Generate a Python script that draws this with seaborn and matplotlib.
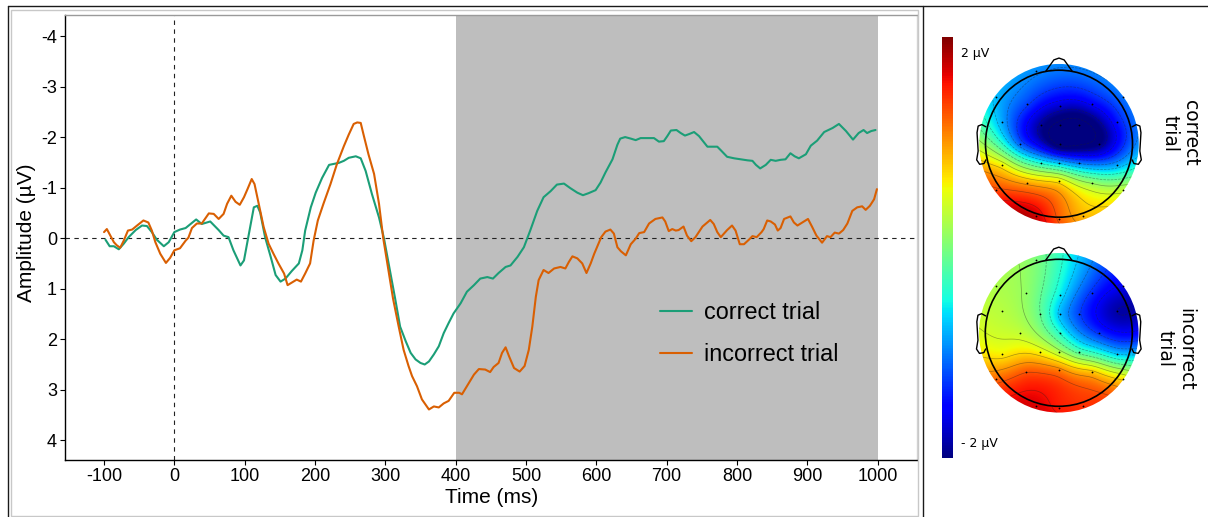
import numpy as np
import pandas as pd
import matplotlib
matplotlib.use("Agg")
import matplotlib.pyplot as plt
import seaborn as sns
from matplotlib.patches import Circle, Rectangle
from matplotlib.lines import Line2D
from matplotlib.colors import Normalize
from matplotlib.colorbar import ColorbarBase

# ---------------- data ----------------
correct_t = [-98, -92, -86, -79, -72, -65, -55, -46, -39, -32, -25, -15, -8, 0, 8, 16, 23, 31, 39, 51,
             63, 70, 77, 84, 94, 99, 106, 113, 118, 122, 129, 137, 144, 151, 158, 167, 177, 182, 186, 194,
             201, 210, 220, 227, 234, 241, 248, 258, 265, 272, 281, 291, 298, 306, 314, 321, 329, 336, 343, 350,
             356, 362, 369, 376, 383, 390, 397, 407, 416, 426, 435, 445, 453, 461, 471, 478, 488, 497, 506, 516,
             525, 535, 544, 554, 563, 573, 581, 589, 599, 606, 613, 623, 630, 634, 641, 649, 656, 663, 672, 682,
             689, 696, 701, 706, 714, 720, 726, 732, 739, 746, 758, 767, 772, 777, 786, 796, 805, 815, 822, 827,
             833, 841, 848, 855, 862, 869, 876, 882, 888, 898, 905, 914, 924, 936, 945, 955, 965, 973, 980, 985,
             991, 997]
correct_v = [0.03, 0.16, 0.16, 0.22, 0.11, -0.02, -0.16, -0.25, -0.24, -0.12, 0.03, 0.16, 0.08, -0.12, -0.17, -0.20, -0.28, -0.37, -0.28, -0.33,
             -0.16, -0.05, -0.02, 0.24, 0.54, 0.44, -0.09, -0.61, -0.64, -0.51, -0.02, 0.37, 0.73, 0.86, 0.80, 0.65, 0.50, 0.24, -0.15, -0.61,
             -0.90, -1.19, -1.45, -1.47, -1.49, -1.53, -1.59, -1.62, -1.58, -1.33, -0.87, -0.41, 0.0, 0.60, 1.20, 1.75, 2.04, 2.27, 2.40, 2.47,
             2.50, 2.44, 2.30, 2.14, 1.88, 1.68, 1.49, 1.29, 1.06, 0.93, 0.80, 0.77, 0.80, 0.69, 0.57, 0.54, 0.37, 0.18, -0.15, -0.54,
             -0.81, -0.93, -1.06, -1.08, -0.99, -0.90, -0.85, -0.89, -0.95, -1.10, -1.30, -1.56, -1.85, -1.97, -2.00, -1.97, -1.94, -1.98, -1.98, -1.98,
             -1.91, -1.92, -2.02, -2.13, -2.14, -2.08, -2.03, -2.06, -2.10, -2.02, -1.81, -1.81, -1.81, -1.74, -1.61, -1.58, -1.56, -1.54, -1.53, -1.45,
             -1.38, -1.45, -1.55, -1.53, -1.55, -1.56, -1.68, -1.62, -1.58, -1.66, -1.83, -1.93, -2.10, -2.18, -2.26, -2.12, -1.95, -2.08, -2.14, -2.08,
             -2.12, -2.14]

incorrect_t = [-100, -96, -91, -86, -82, -77, -72, -66, -60, -53, -44, -37, -32, -27, -20, -12, -6, 0, 8, 16,
               20, 25, 32, 39, 49, 56, 63, 70, 75, 81, 87, 93, 99, 104, 110, 114, 120, 127, 134, 141,
               148, 156, 161, 167, 174, 180, 186, 193, 198, 204, 212, 222, 231, 241, 248, 255, 260, 265, 269, 276,
               284, 291, 297, 304, 311, 319, 326, 333, 338, 345, 352, 362, 369, 376, 383, 390, 398, 405, 409, 416,
               426, 433, 442, 449, 454, 461, 466, 471, 476, 483, 491, 498, 504, 509, 514, 518, 525, 532, 540, 549,
               556, 561, 566, 573, 580, 586, 592, 597, 601, 607, 613, 620, 625, 630, 635, 642, 649, 656, 661, 668,
               675, 684, 694, 698, 703, 708, 713, 717, 724, 729, 735, 741, 751, 762, 767, 772, 777, 786, 793, 798,
               804, 810, 817, 822, 828, 835, 838, 843, 848, 854, 858, 862, 867, 876, 881, 886, 893, 901, 907, 913,
               921, 928, 933, 939, 945, 951, 957, 964, 971, 978, 983, 989, 995, 999]
incorrect_v = [-0.12, -0.18, -0.05, 0.08, 0.14, 0.19, 0.05, -0.15, -0.17, -0.25, -0.35, -0.31, -0.15, 0.08, 0.31, 0.49, 0.39, 0.24, 0.20, 0.05,
               -0.01, -0.20, -0.29, -0.29, -0.49, -0.48, -0.38, -0.48, -0.68, -0.84, -0.72, -0.66, -0.81, -0.97, -1.17, -1.07, -0.68, -0.22, 0.11, 0.31,
               0.50, 0.70, 0.93, 0.88, 0.82, 0.86, 0.70, 0.50, 0.05, -0.35, -0.68, -1.07, -1.46, -1.82, -2.05, -2.26, -2.29, -2.28, -2.05, -1.66,
               -1.27, -0.68, 0.0, 0.60, 1.20, 1.75, 2.21, 2.53, 2.73, 2.93, 3.19, 3.39, 3.33, 3.35, 3.27, 3.22, 3.06, 3.06, 3.09, 2.93,
               2.70, 2.59, 2.60, 2.65, 2.55, 2.47, 2.27, 2.16, 2.34, 2.57, 2.64, 2.53, 2.21, 1.75, 1.16, 0.83, 0.63, 0.69, 0.60, 0.57,
               0.60, 0.47, 0.36, 0.40, 0.50, 0.69, 0.50, 0.31, 0.18, -0.02, -0.13, -0.17, -0.09, 0.18, 0.26, 0.34, 0.12, 0.01, -0.10, -0.12,
               -0.29, -0.38, -0.41, -0.33, -0.14, -0.18, -0.15, -0.16, -0.23, -0.05, 0.06, -0.02, -0.23, -0.36, -0.28, -0.12, -0.02, -0.16, -0.25, -0.15,
               0.12, 0.12, 0.03, -0.04, -0.02, -0.12, -0.18, -0.35, -0.33, -0.27, -0.15, -0.20, -0.38, -0.43, -0.31, -0.25, -0.31, -0.38, -0.22, -0.05,
               0.09, -0.04, -0.02, -0.11, -0.09, -0.16, -0.29, -0.54, -0.61, -0.63, -0.56, -0.64, -0.77, -0.97]

conditions = ["correct trial", "incorrect trial"]
line_colors = ["#1b9e77", "#d95f02"]
x_ticks = list(range(-100, 1001, 100))
y_ticks = [-4, -3, -2, -1, 0, 1, 2, 3, 4]
window = [400, 1000]

# electrode layout (unit head radius) and amplitudes (µV) per condition
elec_x = [-0.31, -0.86, -0.44, 0.01, 0.45, 0.87, -0.77, -0.25, 0.01, 0.27, 0.79, -0.53, 0.01, 0.55,
          -0.77, -0.25, 0.00, 0.27, 0.79, -0.86, -0.44, 0.00, 0.45, 0.87, -0.31, 0.00, 0.33]
elec_y = [0.99, 0.63, 0.54, 0.51, 0.54, 0.63, 0.29, 0.25, 0.25, 0.26, 0.29, 0.00, 0.00, 0.00,
          -0.29, -0.26, -0.26, -0.26, -0.29, -0.63, -0.54, -0.51, -0.54, -0.63, -0.99, -1.02, -0.99]
topo_correct = [-1.0, -0.8, -1.3, -1.8, -1.6, -1.1, -0.9, -2.0, -2.35, -2.4, -1.5, -1.2, -2.35, -2.1,
                0.6, -0.5, -0.8, -1.1, -0.9, 1.4, 1.0, 0.65, 0.15, 0.35, 1.8, 1.3, 0.9]
topo_incorrect = [0.0, 0.25, 0.1, -0.6, -1.4, -1.7, 0.3, -0.15, -0.8, -1.3, -1.95, 0.35, -0.45, -1.4,
                  0.65, 0.6, 0.25, -0.25, -0.75, 1.25, 1.35, 1.15, 0.85, 0.7, 1.75, 1.6, 1.5]
topo_labels = ["correct\ntrial", "incorrect\ntrial"]
cbar_limits = [-2.1, 2.1]
cbar_ticks = [-1.5, -1.0, -0.5, 0.0, 0.5, 1.0, 1.5]

# ---------------- style ----------------
sns.set_theme(style="ticks")
plt.rcParams["font.family"] = ["Liberation Sans", "DejaVu Sans"]
plt.rcParams["axes.unicode_minus"] = False
plt.rcParams["text.color"] = "black"
plt.rcParams["axes.labelcolor"] = "black"
plt.rcParams["xtick.color"] = "black"
plt.rcParams["ytick.color"] = "black"

W, H = 1208, 517
fig = plt.figure(figsize=(W / 100, H / 100), dpi=100)
fig.patch.set_facecolor("white")


def px_rect(x0, y0, x1, y1):
    return [x0 / W, 1 - y1 / H, (x1 - x0) / W, (y1 - y0) / H]


# frames
fig.add_artist(Rectangle((11 / W, 1 - 516 / H), (918 - 11) / W, (516 - 10) / H,
                         transform=fig.transFigure, fill=False, ec="#c8c8c8", lw=1.0))
for (xa, ya, xb, yb) in [(8, 6, 1208, 6), (8, 6, 8, 517), (923, 6, 923, 517)]:
    fig.add_artist(Line2D([xa / W, xb / W], [1 - ya / H, 1 - yb / H],
                          transform=fig.transFigure, color="#1a1a1a", lw=1.0))

# ---------------- main ERP axes ----------------
ax = fig.add_axes(px_rect(65, 15.3, 917, 460))
df = pd.concat([
    pd.DataFrame({"time": correct_t, "amp": correct_v, "cond": conditions[0]}),
    pd.DataFrame({"time": incorrect_t, "amp": incorrect_v, "cond": conditions[1]}),
])
ax.axvspan(window[0], window[1], color="#bebebe", lw=0, zorder=0)
sns.lineplot(data=df, x="time", y="amp", hue="cond", hue_order=conditions,
             palette=dict(zip(conditions, line_colors)), estimator=None, sort=True,
             linewidth=1.5, ax=ax, zorder=3)
ax.axhline(0, color="#222222", lw=0.8, ls=(0, (4, 4)), zorder=2)
ax.axvline(0, color="#222222", lw=0.8, ls=(0, (4, 4)), zorder=2)

ax.set_xlim(-155.5, 1056)
ax.set_ylim(4.39, -4.41)
ax.set_xticks(x_ticks)
ax.set_yticks(y_ticks)
ax.set_xticklabels([str(t) for t in x_ticks])
ax.set_yticklabels([str(t) for t in y_ticks])
ax.tick_params(direction="out", length=3.6, width=0.8, pad=2.2, labelsize=13,
               colors="black", labelcolor="black")
ax.set_xlabel("Time (ms)", fontsize=15, color="black")
ax.set_ylabel("Amplitude (µV)", fontsize=15, color="black")
ax.xaxis.set_label_coords(0.501, -0.063)
ax.yaxis.set_label_coords(-0.034, 0.51)
ax.spines["left"].set_color("black")
ax.spines["bottom"].set_color("black")
ax.spines["top"].set_color("#9a9a9a")
ax.spines["right"].set_color("#d4d4d4")
for s in ax.spines.values():
    s.set_linewidth(1.0)

handles, labels = ax.get_legend_handles_labels()
leg = ax.legend(handles, labels, loc="upper left", bbox_to_anchor=(0.698, 0.357), frameon=False,
                fontsize=16.8, handlelength=1.38, handletextpad=0.52, labelspacing=0.8,
                borderpad=0.0, borderaxespad=0.0)
for t in leg.get_texts():
    t.set_color("black")


# ---------------- topomaps ----------------
def tps_field(xe, ye, v, X, Y):
    xe = np.asarray(xe); ye = np.asarray(ye); v = np.asarray(v)
    n = len(v)

    def U(r):
        with np.errstate(divide="ignore", invalid="ignore"):
            out = r ** 2 * np.log(r)
        return np.nan_to_num(out)

    d = np.hypot(xe[:, None] - xe[None, :], ye[:, None] - ye[None, :])
    K = U(d) + np.eye(n) * 1e-3
    Q = np.column_stack([np.ones(n), xe, ye])
    A = np.block([[K, Q], [Q.T, np.zeros((3, 3))]])
    b = np.concatenate([v, np.zeros(3)])
    sol = np.linalg.solve(A, b)
    w, a = sol[:n], sol[n:]
    gx, gy = X.ravel(), Y.ravel()
    dg = np.hypot(gx[:, None] - xe[None, :], gy[:, None] - ye[None, :])
    Z = U(dg) @ w + a[0] + a[1] * gx + a[2] * gy
    return Z.reshape(X.shape)


g = np.linspace(-1.13, 1.13, 260)
GX, GY = np.meshgrid(g, g)
nose = [(-0.18, 0.985), (-0.07, 1.14), (0.0, 1.165), (0.07, 1.14), (0.18, 0.985)]
ear = [(-0.995, 0.23), (-1.05, 0.26), (-1.10, 0.24), (-1.115, 0.15), (-1.10, -0.10),
       (-1.12, -0.22), (-1.08, -0.28), (-1.02, -0.27), (-0.995, -0.22)]

centers = [(1059, 143.7), (1058.8, 332.8)]
R = 73.5
half = 1.35 * R
for (cx, cy), vals, lab, lx, ly in zip(centers, [topo_correct, topo_incorrect], topo_labels,
                                       [1180, 1175], [133, 349]):
    tax = fig.add_axes(px_rect(cx - half, cy - half, cx + half, cy + half))
    Z = tps_field(elec_x, elec_y, vals, GX, GY)
    im = tax.imshow(Z, extent=(-1.13, 1.13, -1.13, 1.13), origin="lower", cmap="jet",
                    vmin=cbar_limits[0], vmax=cbar_limits[1], interpolation="bilinear")
    clip = Circle((0, 0), 1.085, transform=tax.transData)
    im.set_clip_path(clip)
    cs = tax.contour(GX, GY, Z, levels=np.arange(-2.55, 2.6, 0.3), colors="#222222",
                     linewidths=0.5, alpha=0.4)
    cs.set_clip_path(clip)
    tax.add_patch(Circle((0, 0), 1.0, fill=False, ec="black", lw=1.2))
    tax.plot([p[0] for p in nose], [p[1] for p in nose], color="black", lw=1.0)
    tax.plot([p[0] for p in ear], [p[1] for p in ear], color="black", lw=1.0)
    tax.plot([-p[0] for p in ear], [p[1] for p in ear], color="black", lw=1.0)
    tax.plot(elec_x, elec_y, "o", color="black", ms=1.3, mew=0)
    tax.set_xlim(-1.35, 1.35)
    tax.set_ylim(-1.35, 1.35)
    tax.set_aspect("equal")
    tax.axis("off")
    fig.text(lx / W, 1 - ly / H, lab, rotation=270, ha="center", va="center",
             multialignment="center", fontsize=13.5, linespacing=1.1, family=["DejaVu Sans"],
             color="black")

# colorbar
cax = fig.add_axes(px_rect(942, 37, 953, 458))
cb = ColorbarBase(cax, cmap=plt.get_cmap("jet"), norm=Normalize(*cbar_limits), orientation="vertical")
cb.outline.set_visible(False)
cb.set_ticks(cbar_ticks)
cax.yaxis.set_ticks_position("left")
cax.tick_params(direction="in", length=3, width=0.6, colors="#333333", labelleft=False, labelright=False)
fig.text(961 / W, 1 - 53 / H, "2 µV", fontsize=9, va="center", ha="left", family=["DejaVu Sans"], color="black")
fig.text(961 / W, 1 - 444 / H, "- 2 µV", fontsize=9, va="center", ha="left", family=["DejaVu Sans"], color="black")

fig.savefig("out.png", dpi=100, facecolor="white")
